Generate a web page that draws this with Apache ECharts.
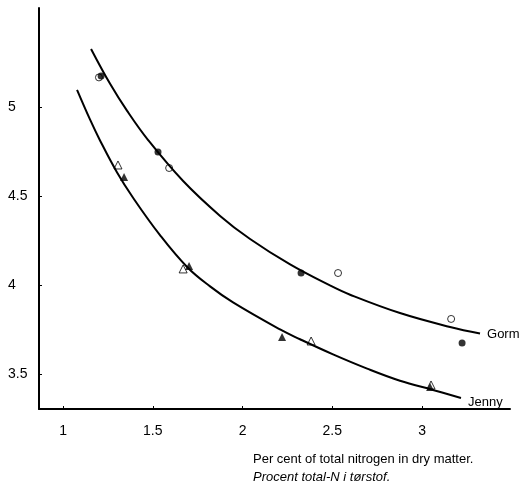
<!DOCTYPE html>
<html>
<head>
<meta charset="utf-8">
<script src="https://cdn.jsdelivr.net/npm/echarts@6/dist/echarts.min.js"></script>
<style>
  html, body { margin: 0; padding: 0; background: #fff; }
  #chart { width: 525px; height: 486px; }
</style>
</head>
<body>
<div id="chart"></div>
<script>
// tick labels
const xTicks = [1, 1.5, 2, 2.5, 3]
const yTicks = [3.5, 4, 4.5, 5]

// measured points, [% N, value]
const gormFilled = [[1.212, 5.174], [1.529, 4.747], [2.326, 4.067], [3.223, 3.674]]
const gormOpen = [[1.200, 5.166], [1.591, 4.657], [2.532, 4.067], [3.162, 3.809]]
const jennyFilled = [[1.340, 4.607], [1.702, 4.107], [2.220, 3.708], [3.045, 3.427]]
const jennyOpen = [[1.306, 4.674], [1.669, 4.090], [2.382, 3.685], [3.050, 3.438]]

// fitted curves
const gormCurveX = [1.156, 1.262, 1.357, 1.474, 1.669, 1.875, 2.042, 2.265, 2.487, 2.599, 2.877, 3.156, 3.323]
const gormCurveY = [5.326, 5.130, 4.978, 4.814, 4.584, 4.388, 4.258, 4.115, 3.997, 3.945, 3.842, 3.764, 3.727]
const jennyCurveX = [1.078, 1.150, 1.206, 1.301, 1.390, 1.540, 1.691, 1.819, 1.947, 2.209, 2.320, 2.504, 2.694, 2.877, 3.061, 3.217]
const jennyCurveY = [5.096, 4.930, 4.812, 4.632, 4.490, 4.280, 4.101, 3.992, 3.902, 3.750, 3.695, 3.610, 3.530, 3.462, 3.410, 3.365]

const pairs = (xs, ys) => xs.map((x, i) => [x, ys[i]])

const font = 'Liberation Sans, Arial, Helvetica, sans-serif'
const chart = echarts.init(document.getElementById('chart'))

chart.setOption({
  animation: false,
  backgroundColor: '#fff',
  textStyle: { fontFamily: font, color: '#000' },
  title: {
    left: 253,
    top: 453,
    padding: 0,
    itemGap: 5,
    text: 'Per cent of total nitrogen in dry matter.',
    subtext: 'Procent total-N i tørstof.',
    textStyle: { fontFamily: font, fontSize: 13, fontWeight: 'normal', color: '#000' },
    subtextStyle: { fontFamily: font, fontSize: 13, fontStyle: 'italic', color: '#000' }
  },
  grid: {
    left: 39,
    right: 15,
    top: 8,
    bottom: 77
  },
  xAxis: {
    type: 'value',
    min: 0.866,
    max: 3.49,
    axisLine: { lineStyle: { color: '#000', width: 2 } },
    axisTick: {
      inside: true,
      length: 3,
      customValues: xTicks,
      lineStyle: { color: '#000' }
    },
    axisLabel: {
      customValues: xTicks,
      margin: 15,
      fontSize: 14,
      color: '#000',
      fontFamily: font
    },
    splitLine: { show: false }
  },
  yAxis: {
    type: 'value',
    min: 3.303,
    max: 5.556,
    axisLine: { show: true, lineStyle: { color: '#000', width: 2 } },
    axisTick: {
      show: true,
      inside: true,
      length: 3,
      customValues: yTicks,
      lineStyle: { color: '#000' }
    },
    axisLabel: {
      customValues: yTicks,
      align: 'left',
      margin: 31,
      fontSize: 14,
      color: '#000',
      fontFamily: font
    },
    splitLine: { show: false }
  },
  series: [
    {
      name: 'Gorm',
      type: 'line',
      smooth: 0.4,
      showSymbol: false,
      lineStyle: { color: '#000', width: 2 },
      endLabel: { show: true, formatter: '{a}', distance: 7, offset: [0, 1], fontSize: 13, color: '#000', fontFamily: font },
      data: pairs(gormCurveX, gormCurveY)
    },
    {
      name: 'Jenny',
      type: 'line',
      smooth: 0.4,
      showSymbol: false,
      lineStyle: { color: '#000', width: 2 },
      endLabel: { show: true, formatter: '{a}', distance: 7, offset: [0, 4], fontSize: 13, color: '#000', fontFamily: font },
      data: pairs(jennyCurveX, jennyCurveY)
    },
    {
      name: 'Gorm open',
      type: 'scatter',
      symbol: 'circle',
      symbolSize: 7,
      itemStyle: { color: '#fff', borderColor: '#000', borderWidth: 1 },
      data: gormOpen
    },
    {
      name: 'Gorm filled',
      type: 'scatter',
      symbol: 'circle',
      symbolSize: 7,
      itemStyle: { color: '#000' },
      data: gormFilled
    },
    {
      name: 'Jenny open',
      type: 'scatter',
      symbol: 'triangle',
      symbolSize: 8,
      itemStyle: { color: '#fff', borderColor: '#000', borderWidth: 1 },
      data: jennyOpen
    },
    {
      name: 'Jenny filled',
      type: 'scatter',
      symbol: 'triangle',
      symbolSize: 8,
      itemStyle: { color: '#000' },
      data: jennyFilled
    }
  ]
})
</script>
</body>
</html>
